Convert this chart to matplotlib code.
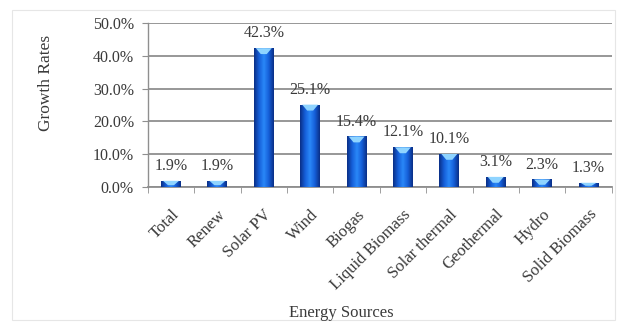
import numpy as np
import matplotlib
matplotlib.use("Agg")
from matplotlib import pyplot as plt
from matplotlib.colors import LinearSegmentedColormap
from matplotlib.patches import Rectangle, Polygon

sources = ["Total", "Renew", "Solar PV", "Wind", "Biogas", "Liquid Biomass",
           "Solar thermal", "Geothermal", "Hydro", "Solid Biomass"]
growth = [1.9, 1.9, 42.3, 25.1, 15.4, 12.1, 10.1, 3.1, 2.3, 1.3]
y_ticks = [0, 10, 20, 30, 40, 50]

plt.rcParams['font.family'] = ['Liberation Serif', 'DejaVu Serif']
TXT = "#3a3a3a"

fig = plt.figure(figsize=(6.21, 3.27), dpi=100)
ax = fig.add_axes([0.238, 0.428, 0.747, 0.502])

x = np.arange(len(sources))
bars = ax.bar(x, growth, width=0.43, color="#1766e4", zorder=2)

# cylinder-like shading across each bar, light notch on top
shade = LinearSegmentedColormap.from_list(
    "cyl", ["#0a2f86", "#155ed8", "#2a88f8", "#155ed8", "#0a2f86"])
grad = np.linspace(0, 1, 64).reshape(1, -1)
for b in bars:
    x0, w, h = b.get_x(), b.get_width(), b.get_height()
    im = ax.imshow(grad, cmap=shade, aspect="auto", zorder=3,
                   extent=[x0, x0 + w, 0, h])
    im.set_clip_path(b)
    depth = min(1.8, h * 0.7)
    notch = Polygon([(x0 + w * 0.1, h), (x0 + w * 0.9, h),
                     (x0 + w * 0.65, h - depth), (x0 + w * 0.35, h - depth)],
                    closed=True, color="#8fd4ff", lw=0, zorder=4)
    ax.add_patch(notch)

for xi, v in zip(x, growth):
    ax.annotate(f"{v:.1f}%", (xi, v), xytext=(0, 5), textcoords="offset points",
                ha="center", va="bottom", fontsize=11.5, color=TXT, zorder=5)

ax.set_xlim(-0.5, len(sources) - 0.5)
ax.set_ylim(0, 50)
ax.set_yticks(y_ticks)
ax.set_yticklabels([f"{t:.1f}%" for t in y_ticks], fontsize=11.5, color=TXT)
ax.yaxis.grid(True, color="#8f8f8f", lw=1.3, zorder=0)
ax.set_axisbelow(True)

ax.set_xticks(x)
ax.set_xticklabels(sources, rotation=45, ha="right", rotation_mode="anchor",
                   fontsize=12, color=TXT)
ax.tick_params(axis="x", length=0, pad=14)
ax.set_xticks(np.arange(len(sources) + 1) - 0.5, minor=True)
ax.tick_params(axis="x", which="minor", length=4, color="#8f8f8f")
ax.tick_params(axis="y", length=4, color="#8f8f8f", pad=6)

for s in ["top", "right"]:
    ax.spines[s].set_visible(False)
ax.spines["left"].set_color("#8f8f8f")
ax.spines["bottom"].set_color("#8f8f8f")
ax.spines["left"].set_linewidth(1.0)
ax.spines["bottom"].set_linewidth(1.3)

fig.text(0.074, 0.745, "Growth Rates", rotation=90, ha="center", va="center",
         fontsize=12.5, color=TXT)
fig.text(0.549, 0.043, "Energy Sources", ha="center", va="center",
         fontsize=12, color=TXT)

# faint frame round the chart
fig.patches.append(Rectangle((0.02, 0.02), 0.97, 0.95, transform=fig.transFigure,
                             fill=False, ec="#e6e6e6", lw=0.8))

plt.savefig("out.png", dpi=100)
